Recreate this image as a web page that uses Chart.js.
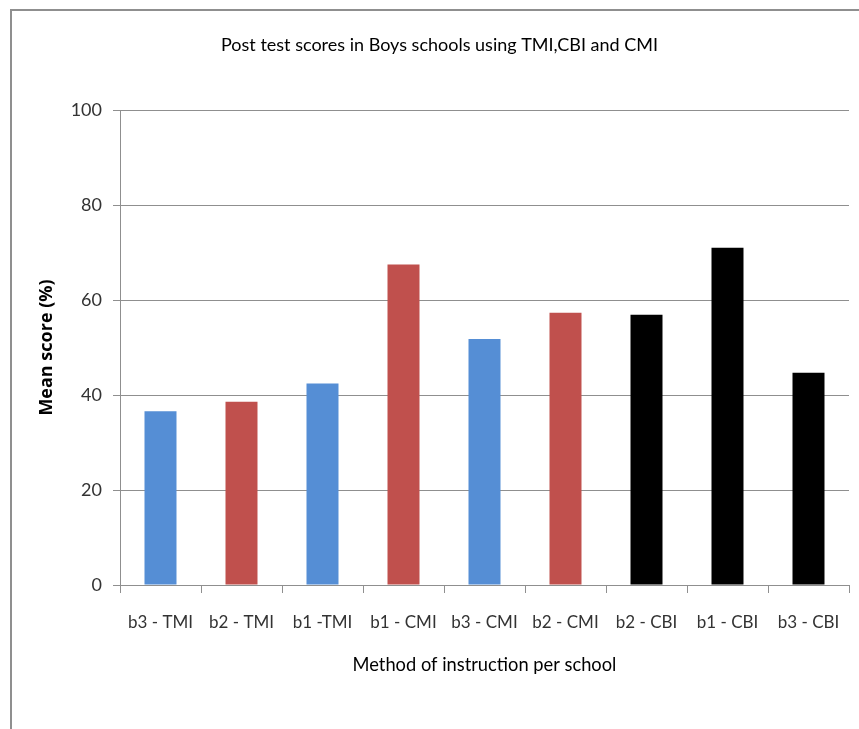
<!DOCTYPE html>
<html><head><meta charset="utf-8">
<script src="https://cdn.jsdelivr.net/npm/chart.js@4"></script>
<style>
html,body{margin:0;padding:0;background:#fff;}
#wrap{position:relative;width:859px;height:729px;overflow:hidden;}
#frame{position:absolute;left:10px;top:9px;width:860px;height:730px;border-left:2px solid #8f8f8f;border-top:2px solid #8f8f8f;}
canvas{position:absolute;left:0;top:0;}
</style></head><body>
<div id="wrap"><div id="frame"></div><canvas id="c" width="859" height="729"></canvas></div>
<script>
const categories = ["b3 - TMI", "b2 - TMI", "b1 -TMI", "b1 - CMI", "b3 - CMI", "b2 - CMI", "b2 - CBI", "b1 - CBI", "b3 - CBI"];
const meanScores = [36.6, 38.6, 42.4, 67.5, 51.8, 57.3, 56.9, 71.0, 44.7];
const yTickValues = [0, 20, 40, 60, 80, 100];

const BLUE = "#558ED5", RED = "#C0504D", BLACK = "#000000";
const barColors = [BLUE, RED, BLUE, RED, BLUE, RED, BLACK, BLACK, BLACK];
const FONT = "Lato, 'Noto Sans', sans-serif";

const shiftTitle = {
  id: "shiftTitle",
  afterLayout(chart) {
    const t = chart.titleBlock;
    if (t) { t.left = 20; t.right = 859; t.width = t.right - t.left; }
  }
};

new Chart(document.getElementById("c"), {
  type: "bar",
  plugins: [shiftTitle],
  data: {
    labels: categories,
    datasets: [{
      data: meanScores,
      backgroundColor: barColors,
      borderWidth: 0,
      barPercentage: 0.395,
      categoryPercentage: 1.0
    }]
  },
  options: {
    responsive: false,
    animation: false,
    devicePixelRatio: 1,
    layout: { padding: { left: 0, right: 10, top: 0, bottom: 0 } },
    plugins: {
      legend: { display: false },
      tooltip: { enabled: false },
      title: {
        display: true,
        text: "Post test scores in Boys schools using TMI,CBI and CMI",
        color: "#000",
        font: { family: FONT, size: 18, weight: "normal" },
        padding: { top: 34, bottom: 54.4 }
      }
    },
    scales: {
      x: {
        afterFit(s) { s.height = 144; },
        grid: { drawOnChartArea: false, drawTicks: true, tickLength: 8, color: "#8f8f8f", offset: true },
        border: { display: true, color: "#8f8f8f", width: 1 },
        ticks: { color: "#333", padding: 19, font: { family: FONT, size: 17 }, maxRotation: 0, autoSkip: false },
        title: {
          display: true,
          text: "Method of instruction per school",
          color: "#000",
          font: { family: FONT, size: 18.3, weight: "normal" },
          padding: { top: 0, bottom: 53 }
        }
      },
      y: {
        min: 0, max: 100,
        afterFit(s) { s.width = 120; },
        afterBuildTicks(s) { s.ticks = yTickValues.map(v => ({ value: v })); },
        grid: { color: "#8f8f8f", drawTicks: true, tickLength: 7, lineWidth: 1 },
        border: { display: true, color: "#8f8f8f", width: 1 },
        ticks: { color: "#333", padding: 11, font: { family: FONT, size: 18 } },
        title: {
          display: true,
          text: "Mean score (%)",
          color: "#000",
          font: { family: "'Open Sans', sans-serif", size: 18, weight: "bold" },
          padding: { top: 36, bottom: 0 }
        }
      }
    }
  }
});
</script>
</body></html>
